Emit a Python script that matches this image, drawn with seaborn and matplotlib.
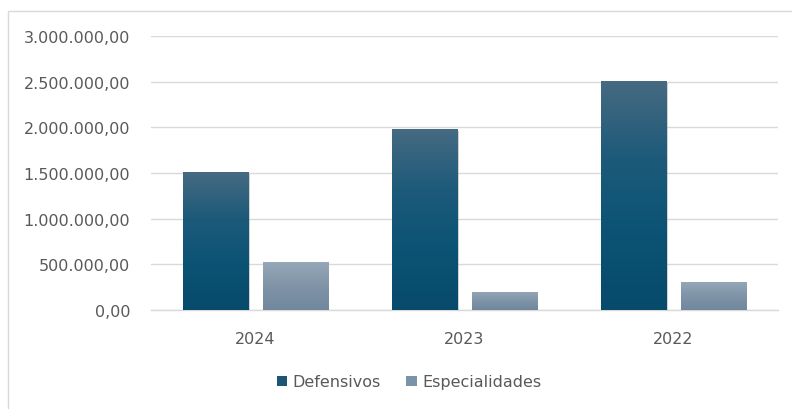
import matplotlib
matplotlib.use("Agg")
import numpy as np
import pandas as pd
import seaborn as sns
import matplotlib.pyplot as plt
from matplotlib.colors import LinearSegmentedColormap
from matplotlib.patches import Rectangle
from matplotlib import patheffects as pe
from matplotlib.ticker import FuncFormatter

# ---- data ----
years = ["2024", "2023", "2022"]
series = ["Defensivos", "Especialidades"]
defensivos = [1510000, 1980000, 2505000]
especialidades = [525000, 200000, 310000]

df = pd.DataFrame({
    "Ano": years * 2,
    "Valor": defensivos + especialidades,
    "Serie": [series[0]] * len(years) + [series[1]] * len(years),
})

sns.set_theme(style="white")
plt.rcParams["font.family"] = ["DejaVu Sans"]

fig = plt.figure(figsize=(7.92, 4.10), dpi=100)
ax = fig.add_axes([151 / 792, 1 - 311 / 410, 627 / 792, 274 / 410])

swatch = {"Defensivos": "#1b5676", "Especialidades": "#7a93a8"}
sns.barplot(data=df, x="Ano", y="Valor", hue="Serie", order=years,
            hue_order=series, palette=[swatch[s] for s in series],
            width=0.76, gap=0.18, ax=ax, legend=False, errorbar=None)

ax.set_xlim(-0.5, 2.5)
ax.set_ylim(0, 3000000)
ax.set_yticks(np.arange(0, 3000001, 500000))

grads = {
    "Defensivos": LinearSegmentedColormap.from_list(
        "d", ["#084a6b", "#0b5374", "#1d5a7a", "#466a82"]),
    "Especialidades": LinearSegmentedColormap.from_list(
        "e", ["#70879c", "#8094a8", "#95a8b7"]),
}

for container, name in zip(ax.containers, series):
    for patch in container.patches:
        x, y = patch.get_x(), patch.get_y()
        w, h = patch.get_width(), patch.get_height()
        patch.set_facecolor("none")
        patch.set_edgecolor("none")
        patch.set_path_effects([pe.SimplePatchShadow(offset=(1.2, -1.2),
                                                     shadow_rgbFace="#808080",
                                                     alpha=0.35)])
        grad = np.linspace(0, 1, 256).reshape(-1, 1)
        im = ax.imshow(grad, extent=[x, x + w, y, y + h], origin="lower",
                       cmap=grads[name], aspect="auto", zorder=3,
                       interpolation="bicubic")
        im.set_clip_path(patch)
        patch.set_zorder(2.9)

ax.set_xlim(-0.5, 2.5)
ax.set_ylim(0, 3000000)

ax.yaxis.grid(True, color="#d9d9d9", linewidth=1)
ax.set_axisbelow(True)
for s in ["top", "right", "left"]:
    ax.spines[s].set_visible(False)
ax.spines["bottom"].set_color("#d9d9d9")
ax.spines["bottom"].set_linewidth(1)

def br(v, pos):
    s = f"{v:,.2f}"
    return s.replace(",", "X").replace(".", ",").replace("X", ".")

ax.yaxis.set_major_formatter(FuncFormatter(br))
ax.tick_params(axis="y", length=0, pad=15, labelsize=11.5, labelcolor="#595959")
ax.tick_params(axis="x", length=0, pad=15, labelsize=11.5, labelcolor="#595959")
ax.set_xlabel("")
ax.set_ylabel("")

handles = [Rectangle((0, 0), 1, 1, facecolor=swatch[s], edgecolor="none") for s in series]
fig.legend(handles, series, loc="center", bbox_to_anchor=(409 / 792, 1 - 383 / 410),
           ncol=2, frameon=False, handlelength=0.65, handleheight=0.65,
           handletextpad=0.35, columnspacing=1.6, fontsize=11.5,
           labelcolor="#595959")

fig.patches.append(Rectangle((8 / 792, -0.2), 1.2, 0.2 + 1 - 12 / 410,
                             transform=fig.transFigure, fill=False,
                             edgecolor="#d9d9d9", linewidth=1))

fig.savefig("out.png", dpi=100, facecolor="white")
